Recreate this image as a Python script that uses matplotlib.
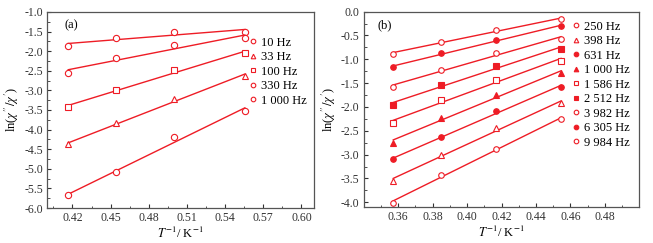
import numpy as np
import matplotlib
matplotlib.use("Agg")
import matplotlib.pyplot as plt
from matplotlib.lines import Line2D
from matplotlib.ticker import MultipleLocator

plt.rcParams['font.family'] = ['Liberation Serif', 'DejaVu Serif']
plt.rcParams['mathtext.fontset'] = 'stix'
plt.rcParams['font.size'] = 8.5

RED = '#ee1c25'

# panel (a): T = 2.4, 2.2, 2.0, 1.8 K
x_a = [1/2.4, 1/2.2, 1/2.0, 1/1.8]
y_a = [
    [-1.86, -1.67, -1.52, -1.50],
    [-2.55, -2.18, -1.85, -1.66],
    [-3.43, -2.98, -2.49, -2.05],
    [-4.38, -3.84, -3.22, -2.63],
    [-5.68, -5.08, -4.19, -3.52],
]
labels_a = ['10 Hz', '33 Hz', '100 Hz', '330 Hz', '1 000 Hz']
plot_mk_a = [('o', False), ('o', False), ('s', False), ('^', False), ('o', False)]
leg_mk_a = [('o', False), ('^', False), ('s', False), ('o', False), ('o', False)]

# panel (b): T = 2.8, 2.6, 2.4, 2.2 K
x_b = [1/2.8, 1/2.6, 1/2.4, 1/2.2]
y_b = [
    [-0.885, -0.634, -0.383, -0.16],
    [-1.17, -0.87, -0.59, -0.31],
    [-1.58, -1.22, -0.87, -0.565],
    [-1.96, -1.53, -1.14, -0.787],
    [-2.34, -1.86, -1.43, -1.03],
    [-2.75, -2.23, -1.75, -1.29],
    [-3.10, -2.63, -2.09, -1.58],
    [-3.55, -3.00, -2.45, -1.92],
    [-4.01, -3.43, -2.89, -2.25],
]
labels_b = ['250 Hz', '398 Hz', '631 Hz', '1 000 Hz', '1 586 Hz',
            '2 512 Hz', '3 982 Hz', '6 305 Hz', '9 984 Hz']
plot_mk_b = [('o', False), ('o', True), ('o', False), ('s', True), ('s', False),
             ('^', True), ('o', True), ('^', False), ('o', False)]
leg_mk_b = [('o', False), ('^', False), ('o', True), ('^', True), ('s', False),
            ('s', True), ('o', False), ('o', True), ('o', False)]


def draw(ax, xs, ys, mks, ms):
    xs = np.array(xs)
    for y, (m, filled) in zip(ys, mks):
        k, b = np.polyfit(xs, y, 1)
        ax.plot(xs, k * xs + b, color=RED, lw=1.0)
        ax.plot(xs, y, ls='none', marker=m, ms=ms,
                mfc=RED if filled else 'white', mec=RED, mew=0.8)


def style(ax):
    for s in ax.spines.values():
        s.set_color('#555555')
        s.set_linewidth(0.9)
    ax.tick_params(which='both', direction='in', top=False, right=False,
                   colors='#333333', labelsize=8.5, pad=3)
    ax.tick_params(which='major', length=3)
    ax.tick_params(which='minor', length=1.8)
    ax.set_xlabel(r'$T^{-1}$/ K$^{-1}$', fontsize=9, labelpad=1)
    ax.set_ylabel(r'ln($\chi^{\prime\prime}/\chi^{\prime}$)', fontsize=9, labelpad=2)


def legend(ax, labels, mks, x0, y0):
    handles = [Line2D([], [], ls='none', marker=m, ms=3.3,
                      mfc=RED if f else 'white', mec=RED, mew=0.8)
               for m, f in mks]
    ax.legend(handles, labels, loc='upper left', bbox_to_anchor=(x0, y0),
              frameon=False, handlelength=0.6, handletextpad=0.3,
              labelspacing=0.2, borderaxespad=0, fontsize=9)


fig = plt.figure(figsize=(6.53, 2.43), dpi=100)
ax1 = fig.add_axes([0.072, 0.144, 0.409, 0.807])
ax2 = fig.add_axes([0.557, 0.148, 0.422, 0.804])

draw(ax1, x_a, y_a, plot_mk_a, 4.5)
ax1.set_xlim(0.40, 0.61)
ax1.set_ylim(-6.0, -1.0)
ax1.set_xticks(np.arange(0.42, 0.601, 0.03))
ax1.xaxis.set_minor_locator(MultipleLocator(0.015))
ax1.set_yticks(np.arange(-6.0, -0.99, 0.5))
ax1.yaxis.set_minor_locator(MultipleLocator(0.25))
ax1.xaxis.set_major_formatter(plt.FormatStrFormatter('%.2f'))
ax1.yaxis.set_major_formatter(plt.FormatStrFormatter('%.1f'))
style(ax1)
ax1.text(0.064, 0.93, '(a)', transform=ax1.transAxes, fontsize=9, va='center')
legend(ax1, labels_a, leg_mk_a, 0.74, 0.90)

draw(ax2, x_b, y_b, plot_mk_b, 4)
ax2.set_xlim(0.34, 0.50)
ax2.set_ylim(-4.1, 0.0)
ax2.set_xticks(np.arange(0.36, 0.481, 0.02))
ax2.xaxis.set_minor_locator(MultipleLocator(0.01))
ax2.set_yticks(np.arange(-4.0, 0.01, 0.5))
ax2.yaxis.set_minor_locator(MultipleLocator(0.25))
ax2.xaxis.set_major_formatter(plt.FormatStrFormatter('%.2f'))
ax2.yaxis.set_major_formatter(plt.FormatStrFormatter('%.1f'))
style(ax2)
ax2.text(0.05, 0.93, '(b)', transform=ax2.transAxes, fontsize=9, va='center')
legend(ax2, labels_b, leg_mk_b, 0.74, 0.98)

fig.savefig('out.png', dpi=100)
